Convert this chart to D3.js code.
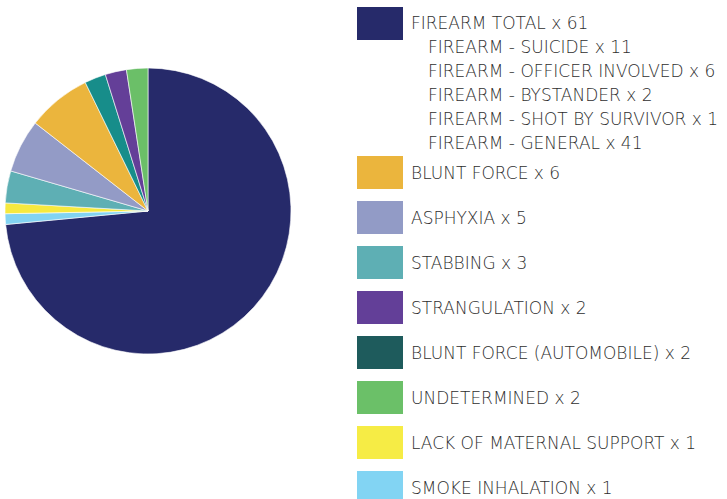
<!DOCTYPE html>
<html>
<head>
<meta charset="utf-8">
<script src="https://cdn.jsdelivr.net/npm/d3@7"></script>
<style>
  html, body { margin: 0; padding: 0; background: #fff; }
  svg { display: block; }
  .lbl { font-family: "DejaVu Sans", sans-serif; font-weight: 200; fill: #2e2e2e; }
</style>
</head>
<body>
<svg id="chart" width="727" height="499"></svg>
<script>
// Causes of death, in the order they sit around the pie (clockwise from 12 o'clock)
const causes = ["FIREARM TOTAL", "SMOKE INHALATION", "LACK OF MATERNAL SUPPORT", "STABBING",
  "ASPHYXIA", "BLUNT FORCE", "BLUNT FORCE (AUTOMOBILE)", "STRANGULATION", "UNDETERMINED"];
const counts = [61, 1, 1, 3, 5, 6, 2, 2, 2];
const sliceColors = ["#262a6a", "#82d3f2", "#f6e93f", "#5eafb4", "#939bc6", "#ebb53d",
  "#178d8a", "#643f98", "#6bbf68"];

// Legend order and swatch colours
const legendCauses = ["FIREARM TOTAL", "BLUNT FORCE", "ASPHYXIA", "STABBING", "STRANGULATION",
  "BLUNT FORCE (AUTOMOBILE)", "UNDETERMINED", "LACK OF MATERNAL SUPPORT", "SMOKE INHALATION"];
const legendColors = ["#262a6a", "#ebb53d", "#929bc6", "#5eafb4", "#633f98", "#1e5b5c",
  "#6bc068", "#f6ec45", "#82d4f3"];

// Breakdown of firearm deaths listed under the first legend entry
const firearmTypes = ["FIREARM - SUICIDE", "FIREARM - OFFICER INVOLVED", "FIREARM - BYSTANDER",
  "FIREARM - SHOT BY SURVIVOR", "FIREARM - GENERAL"];
const firearmCounts = [11, 6, 2, 1, 41];

const svg = d3.select("#chart");

// Pie
const cx = 148, cy = 211, radius = 143;
const pie = d3.pie().sort(null).value(d => d.count);
const arc = d3.arc().innerRadius(0).outerRadius(radius);
const sliceData = causes.map((c, i) => ({ cause: c, count: counts[i], color: sliceColors[i] }));

svg.append("g")
  .attr("transform", `translate(${cx},${cy})`)
  .selectAll("path")
  .data(pie(sliceData))
  .join("path")
  .attr("d", arc)
  .attr("fill", d => d.data.color)
  .attr("stroke", "#ffffff")
  .attr("stroke-width", 0.6)
  .attr("stroke-linejoin", "round");

// Legend
const countOf = name => counts[causes.indexOf(name)];
const legend = svg.append("g");
const swX = 357, swW = 46, swH = 33, textX = 411, fontSize = 17;

// Row positions: first entry at top, then the firearm breakdown, then the rest
const firstTop = 7, subStart = 47, subStep = 24, restTop = 156, restStep = 45;

legend.append("rect")
  .attr("x", swX).attr("y", firstTop).attr("width", swW).attr("height", swH)
  .attr("fill", legendColors[0]);
legend.append("text").attr("class", "lbl")
  .attr("x", textX).attr("y", firstTop + swH / 2 - 1).attr("dy", "0.36em")
  .attr("font-size", fontSize)
  .text(`${legendCauses[0]} x ${countOf(legendCauses[0])}`);

legend.selectAll("text.sub")
  .data(firearmTypes)
  .join("text")
  .attr("class", "lbl sub")
  .attr("x", 428)
  .attr("y", (d, i) => subStart + i * subStep)
  .attr("dy", "0.36em")
  .attr("font-size", fontSize)
  .text((d, i) => `${d} x ${firearmCounts[i]}`);

const rest = legendCauses.slice(1);
const rows = legend.selectAll("g.row")
  .data(rest)
  .join("g")
  .attr("class", "row")
  .attr("transform", (d, i) => `translate(0,${restTop + i * restStep})`);

rows.append("rect")
  .attr("x", swX).attr("width", swW).attr("height", swH)
  .attr("fill", (d, i) => legendColors[i + 1]);

rows.append("text").attr("class", "lbl")
  .attr("x", textX).attr("y", swH / 2).attr("dy", "0.36em")
  .attr("font-size", fontSize)
  .text(d => `${d} x ${countOf(d)}`);
</script>
</body>
</html>
